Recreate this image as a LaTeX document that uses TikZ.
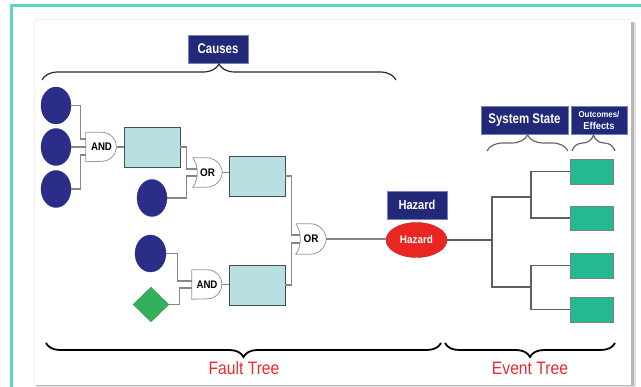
\documentclass[tikz,border=0pt]{standalone}
\usepackage{fontspec}
\setmainfont{Liberation Sans}
\usepackage{graphicx}
\usetikzlibrary{shapes.geometric,calc,decorations.pathreplacing}

\definecolor{framecol}{RGB}{92,214,196}
\definecolor{navy}{RGB}{33,41,120}
\definecolor{navyedge}{RGB}{120,130,180}
\definecolor{eventblue}{RGB}{42,46,136}
\definecolor{boxblue}{RGB}{184,223,226}
\definecolor{boxedge}{RGB}{70,78,80}
\definecolor{condgreen}{RGB}{52,176,92}
\definecolor{outgreen}{RGB}{34,186,142}
\definecolor{hazred}{RGB}{234,38,34}
\definecolor{titlered}{RGB}{236,42,44}
\definecolor{wiregray}{RGB}{135,135,135}
\definecolor{treegray}{RGB}{95,95,95}
\definecolor{gategray}{RGB}{150,150,150}

% horizontally condensed text
\newcommand\squeeze[2]{\scalebox{#1}[1]{#2}}

\begin{document}
\begin{tikzpicture}[x=1pt,y=-1pt,
  basicev/.style={ellipse, fill=eventblue, draw=eventblue!85!black, line width=0.3pt,
    minimum width=30pt, minimum height=37pt, inner sep=0pt},
  condev/.style={diamond, fill=condgreen, draw=condgreen!85!black, line width=0.3pt,
    minimum width=36pt, minimum height=35pt, inner sep=0pt},
  midbox/.style={rectangle, fill=boxblue, draw=boxedge, line width=0.9pt,
    minimum width=56pt, minimum height=40pt, inner sep=0pt},
  outbox/.style={rectangle, fill=outgreen, draw=gray, line width=0.5pt,
    minimum width=43pt, minimum height=25pt, inner sep=0pt},
  gatebox/.style={rectangle, inner sep=0pt, minimum width=30pt, minimum height=29pt,
    font=\fontsize{11}{11}\selectfont\bfseries},
  gateline/.style={draw=gategray, line width=0.8pt},
  wire/.style={draw=wiregray, line width=1.2pt},
  treewire/.style={draw=treegray, line width=1.1pt},
  titlebox/.style={rectangle, fill=navy, draw=navyedge, line width=0.5pt, text=white,
    inner sep=0pt, minimum height=28pt, font=\bfseries},
  bigbrace/.style={decorate, decoration={brace, amplitude=14pt}, line width=1.8pt, black},
  topbrace/.style={decorate, decoration={brace, amplitude=16pt}, line width=1.2pt, black!85},
  smallbrace/.style={decorate, decoration={brace, amplitude=16pt}, line width=1.2pt, black!60},
  treetitle/.style={text=titlered, inner sep=0pt, font=\fontsize{18}{18}\selectfont}
]
\useasboundingbox (0,0) rectangle (641,387);

% page, slide with shadow, frame
\fill[white] (0,0) rectangle (641,387);
\fill[black!12] (37,23) rectangle (636,387);
\fill[black!28] (36,22) rectangle (634,386.5);
\fill[white] (34,19) rectangle (631,385);
\draw[black!6, line width=0.5pt] (34,385) -- (34,19) -- (631,19);
\draw[framecol, line width=3pt] (641,5.5) -- (11.5,5.5) -- (11.5,387);

% ---------------- fault tree ----------------
\node[basicev] (c1) at (56,105.5) {};
\node[basicev] (c2) at (56,147) {};
\node[basicev] (c3) at (56,189) {};
\node[basicev] (c4) at (152,198) {};
\node[basicev, minimum width=31pt] (c5) at (150.5,253.5) {};
\node[condev] (d1) at (151,304.5) {};

\node[gatebox, minimum width=31pt] (and1) at (101.5,147) {\squeeze{0.88}{AND}};
\draw[gateline] (and1.north west) -- ++(16,0) arc[start angle=90, end angle=-90, radius=14.5pt]
  -- (and1.south west) -- cycle;
\node[gatebox] (and2) at (207,284.5) {\squeeze{0.88}{AND}};
\draw[gateline] (and2.north west) -- ++(15.5,0) arc[start angle=90, end angle=-90, radius=14.5pt]
  -- (and2.south west) -- cycle;

\node[gatebox, minimum width=29pt] (or1) at (207.5,172.5) {\squeeze{0.9}{OR}};
\draw[gateline] (or1.north west) -- ++(14,0) .. controls +(9,0) and +(0,-7) .. (or1.east)
  .. controls +(0,7) and +(9,0) .. ($(or1.south west)+(14,0)$) -- (or1.south west)
  .. controls +(6,-8) and +(6,8) .. (or1.north west);
\node[gatebox, minimum height=30pt] (or2) at (311,239) {\squeeze{0.9}{OR}};
\draw[gateline] (or2.north west) -- ++(15,0) .. controls +(9,0) and +(0,-7) .. (or2.east)
  .. controls +(0,7) and +(9,0) .. ($(or2.south west)+(15,0)$) -- (or2.south west)
  .. controls +(6,-8) and +(6,8) .. (or2.north west);

\node[midbox] (r1) at (152,147) {};
\node[midbox] (r2) at (257,176) {};
\node[midbox] (r3) at (257,285) {};

% connectors of the fault tree
\draw[wire] (c1.east) -- ++(9,0) |- ($(and1.west)+(0,-8)$);
\draw[wire] (c2.east) -- (and1.west);
\draw[wire] (c3.east) -- ++(9,0) |- ($(and1.west)+(0,8)$);
\draw[wire] (and1.east) -- (r1.west);
\draw[wire] (r1.east) -- ++(6,0) |- ($(or1.west)+(4,-3.5)$);
\draw[wire] (c4.east) -- ++(19,0) |- ($(or1.west)+(4,3.5)$);
\draw[wire] (or1.east) -- (or1.east -| r2.west);
\draw[wire] (c5.east) -- ++(11.5,0) |- ($(and2.west)+(0,-3.5)$);
\draw[wire] (d1.east) -- ++(10,0) |- ($(and2.west)+(0,3.5)$);
\draw[wire] (and2.east) -- (and2.east -| r3.west);
\draw[wire] (r2.east) -- ++(6,0) |- ($(or2.west)+(4,-4)$);
\draw[wire] (r3.east) -- ++(6,0) |- ($(or2.west)+(4,4)$);

% ---------------- hazard ----------------
\node[ellipse, fill=hazred, draw=hazred!80!black, line width=0.4pt, minimum width=61pt,
  minimum height=35pt, inner sep=0pt, text=white, font=\bfseries] (haz) at (416.5,240)
  {\fontsize{11}{11}\selectfont\squeeze{0.9}{Hazard}};
\node[titlebox, minimum width=60pt] (hazlbl) at (417,205)
  {\fontsize{13}{13}\selectfont\squeeze{0.85}{Hazard}};
\draw[wire] (or2.east) -- (or2.east -| haz.west);

% ---------------- event tree ----------------
\node[outbox] (o1) at (591.5,171.5) {};
\node[outbox, minimum height=24pt] (o2) at (591.5,218) {};
\node[outbox] (o3) at (591.5,265.5) {};
\node[outbox] (o4) at (591.5,309.5) {};

\coordinate (jmain) at (492,240);
\coordinate (jup) at (531,197);
\coordinate (jdn) at (531,287);
\draw[treewire] (haz.east) -- (jmain);
\draw[treewire] (jup) -- (jup -| jmain) -- (jdn -| jmain) -- (jdn);
\draw[treewire] (o1.west) -| (jup) |- (o2.west);
\draw[treewire] (o3.west) -| (jdn) |- (o4.west);

% ---------------- headings and braces ----------------
\node[titlebox, minimum width=60pt] (causes) at (218,49)
  {\fontsize{14}{14}\selectfont\squeeze{0.82}{Causes}};
\node[titlebox, minimum width=87pt] (sslbl) at (524.5,120)
  {\fontsize{14}{14}\selectfont\squeeze{0.82}{System State}};
\node[titlebox, minimum width=56pt, align=center] (oelbl) at (599,120)
  {\fontsize{8.5}{11.5}\selectfont\squeeze{0.93}{Outcomes/}\\\squeeze{0.93}{Effects}};

\coordinate (cb1) at (42,80);
\coordinate (cb2) at (396,80);
\draw[topbrace] (cb1) -- (cb2);
\coordinate (sb1) at (487,151);
\coordinate (sb2) at (568,151);
\draw[smallbrace] (sb1) -- (sb2);
\coordinate (ob1) at (572,151);
\coordinate (ob2) at (615,151);
\draw[smallbrace] (ob1) -- (ob2);

\coordinate (fb1) at (46,343);
\coordinate (fb2) at (441,343);
\draw[bigbrace] (fb2) -- (fb1);
\coordinate (eb1) at (445,343);
\coordinate (eb2) at (615,343);
\draw[bigbrace] (eb2) -- (eb1);

\node[treetitle] (ft) at (244,368) {\squeeze{0.87}{Fault Tree}};
\node[treetitle] (et) at (530,368) {\squeeze{0.87}{Event Tree}};
\end{tikzpicture}
\end{document}
